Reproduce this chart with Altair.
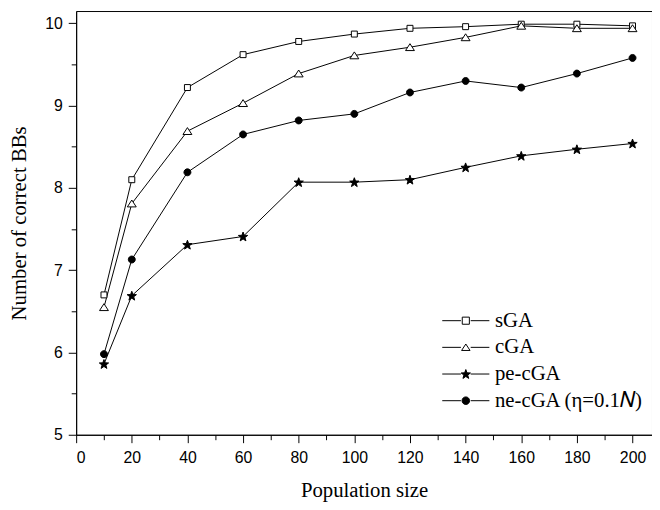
import math
import altair as alt
import pandas as pd

# ---- data ----
pop = [10, 20, 40, 60, 80, 100, 120, 140, 160, 180, 200]
sga = [6.70, 8.10, 9.22, 9.62, 9.78, 9.87, 9.94, 9.96, 9.99, 9.99, 9.97]
cga = [6.55, 7.81, 8.69, 9.03, 9.39, 9.61, 9.71, 9.83, 9.97, 9.94, 9.94]
pecga = [5.86, 6.69, 7.31, 7.41, 8.07, 8.07, 8.10, 8.25, 8.39, 8.47, 8.54]
necga = [5.98, 7.13, 8.19, 8.65, 8.82, 8.90, 9.16, 9.30, 9.22, 9.39, 9.58]
names = ["sGA", "cGA", "pe-cGA", "ne-cGA (η=0.1𝑁)"]
x_ticks = list(range(0, 201, 10))
y_ticks = [5 + 0.5 * i for i in range(11)]

rows = []
for name, vals in zip(names, [sga, cga, pecga, necga]):
    for p, v in zip(pop, vals):
        rows.append({"pop": p, "val": v, "series": name, "lg": name})
df = pd.DataFrame(rows)


# ---- marker shapes (unit paths) ----
def star(r_out, r_in, dy=0.0):
    pts = []
    for i in range(10):
        r = r_out if i % 2 == 0 else r_in
        a = -math.pi / 2 + i * math.pi / 5
        pts.append((r * math.cos(a), r * math.sin(a) + dy))
    return "M" + "L".join(f"{x:.3f},{y:.3f}" for x, y in pts) + "Z"


def circle(r):
    return f"M{-r},0A{r},{r} 0 1,0 {r},0A{r},{r} 0 1,0 {-r},0Z"


def square(h):
    return f"M{-h},{-h}H{h}V{h}H{-h}Z"


tri_plot = "M0,-0.8L1,0.75H-1Z"
plot_paths = [square(0.67), tri_plot, star(1.1, 0.45, 0.1), circle(0.78)]

seg = "M-5.3,0H-1.1M1.1,0H5.3"
leg_paths = [
    seg + square(0.8),
    seg + "M0,-0.75L0.95,0.7H-0.95Z",
    seg + star(1.1, 0.45, 0.1),
    seg + circle(0.85),
]
fills = ["white", "white", "black", "black"]

xscale = alt.Scale(domain=[0, 207], nice=False, zero=False)
yscale = alt.Scale(domain=[5, 10.15], nice=False, zero=False)

# major ticks full length (8px), minor ticks only the first 5px (dash)
x_axis = alt.Axis(orient="bottom", values=x_ticks, tickSize=8,
                  labelExpr="datum.value % 20 === 0 ? format(datum.value, 'd') : ''",
                  tickDash={"condition": {"test": "datum.value % 20 === 0", "value": [10, 0]},
                            "value": [5, 10]},
                  labelPadding=7, titlePadding=14)
y_axis = alt.Axis(orient="left", values=y_ticks, tickSize=8,
                  labelExpr="datum.value % 1 === 0 ? format(datum.value, 'd') : ''",
                  tickDash={"condition": {"test": "datum.value % 1 === 0", "value": [10, 0]},
                            "value": [5, 10]},
                  labelPadding=6, titlePadding=15)

x = alt.X("pop:Q", title="Population size", scale=xscale, axis=x_axis)
y = alt.Y("val:Q", title="Number of correct BBs", scale=yscale, axis=y_axis)

base = alt.Chart(df)

lines = base.mark_line(color="black", strokeWidth=1).encode(x=x, y=y, detail="series:N")

points = base.mark_point(filled=True, stroke="black", strokeWidth=1, opacity=1, size=81).encode(
    x=x, y=y,
    shape=alt.Shape("series:N", scale=alt.Scale(domain=names, range=plot_paths), legend=None),
    fill=alt.Fill("series:N", scale=alt.Scale(domain=names, range=fills), legend=None),
)

leg = alt.Legend(orient="none", legendX=384, legendY=303, title=None,
                 labelFont="Liberation Serif", labelFontSize=21, labelColor="black",
                 symbolSize=81, symbolStrokeColor="black", symbolStrokeWidth=1,
                 symbolOpacity=1, labelOffset=19, rowPadding=5, padding=0)

legend_layer = base.mark_point(filled=False, color="black", strokeWidth=1, opacity=0, size=81).encode(
    x=x, y=y,
    shape=alt.Shape("lg:N", scale=alt.Scale(domain=names, range=leg_paths), legend=leg),
    fill=alt.Fill("lg:N", scale=alt.Scale(domain=names, range=fills), legend=leg),
    stroke=alt.Stroke("lg:N", scale=alt.Scale(domain=names, range=["black"] * 4), legend=leg),
)

chart = (
    alt.layer(lines, points, legend_layer)
    .resolve_scale(shape="independent", fill="independent", stroke="independent")
    .properties(width=583, height=429, autosize=alt.AutoSizeParams(type="none"),
                padding={"left": 69, "top": 0, "right": 0, "bottom": 65})
    .configure_view(stroke="black", strokeWidth=1)
    .configure_axis(grid=False, domainColor="black", tickColor="black", labelColor="black",
                    labelFont="Liberation Sans", labelFontSize=16,
                    titleFont="Liberation Serif", titleFontSize=21, titleFontWeight="normal",
                    titleColor="black", domainWidth=1, tickWidth=1)
)

chart.save("out.html", embed_options={"renderer": "svg", "actions": False})
